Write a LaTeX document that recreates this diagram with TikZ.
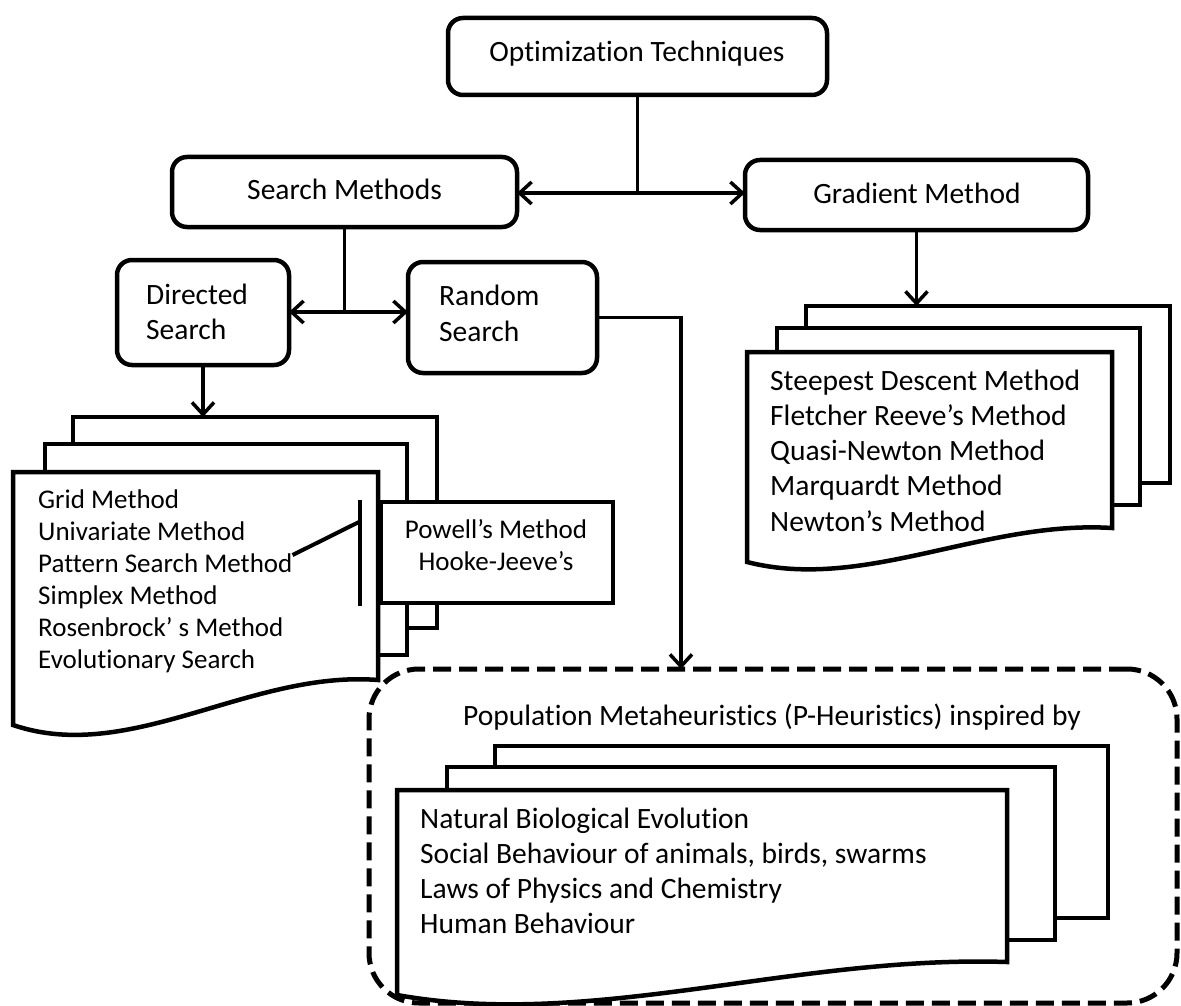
\documentclass[tikz,border=0pt]{standalone}
\usepackage{fontspec}
\setmainfont{Carlito}[Ligatures=NoCommon]
\usetikzlibrary{arrows.meta,calc}
\begin{document}
\begin{tikzpicture}[x=1pt,y=-1pt]
\tikzset{
 rbox/.style={draw, line width=4.5pt, rounded corners=15pt, fill=white, inner sep=0pt, outer sep=0pt},
 sheet/.style={draw, line width=4.5pt, fill=white, inner sep=0pt, outer sep=0pt},
 docpath/.style={draw, line width=4.5pt, fill=white},
 conn/.style={line width=3.5pt},
 arrowend/.style={-{Straight Barb[length=12pt,width=22pt]}},
 arrowboth/.style={{Straight Barb[length=12pt,width=22pt]}-{Straight Barb[length=12pt,width=22pt]}},
 big/.style={font=\fontsize{29.5}{35}\selectfont, inner sep=0pt, anchor=base},
 bigl/.style={font=\fontsize{29.5}{35}\selectfont, inner sep=0pt, anchor=base west},
 small/.style={font=\fontsize{27}{32}\selectfont, inner sep=0pt, anchor=base west},
 smallc/.style={font=\fontsize{27}{32}\selectfont, inner sep=0pt, anchor=base},
 dashbox/.style={draw, line width=5pt, dash pattern=on 18pt off 8pt, rounded corners=50pt, inner sep=0pt, outer sep=0pt},
}
\useasboundingbox (0,0) rectangle (1181,1006);

% dashed population frame
\node[dashbox, minimum width=808pt, minimum height=334pt] (pop) at (773,836) {};

% top boxes
\node[rbox, minimum width=379pt, minimum height=77pt] (opt) at (637.5,56.5) {};
\node[big] (topt) at (637,62) {Optimization Techniques};
\node[rbox, minimum width=345pt, minimum height=70pt] (search) at (344.5,192) {};
\node[big] (tsearch) at (344.5,199) {Search Methods};
\node[rbox, minimum width=343pt, minimum height=70pt] (grad) at (916.5,195) {};
\node[big] (tgrad) at (917,203) {Gradient Method};
\node[rbox, minimum width=172pt, minimum height=105pt] (dir) at (203,312.5) {};
\node[bigl] (tdir1) at (146,304) {Directed};
\node[bigl] (tdir2) at (146,339) {Search};
\node[rbox, minimum width=189pt, minimum height=111pt] (rand) at (502.5,317.5) {};
\node[bigl] (trand1) at (439,305) {Random};
\node[bigl] (trand2) at (439,341) {Search};

% junctions
\coordinate (j1) at (637.5,193);
\coordinate (j2) at (344.5,312);
\coordinate (rdrop) at (681,669);

\draw[conn] (opt.south) -- (j1);
\draw[conn,arrowboth] (search.east |- j1) -- (grad.west |- j1);
\draw[conn] (search.south) -- (j2);
\draw[conn,arrowboth] (dir.east |- j2) -- (rand.west |- j2);
\draw[conn,arrowend] (rand.east) -| (rdrop);

% directed search stack
\node[sheet, minimum width=364pt, minimum height=211pt] (dback) at (255,522.5) {};
\node[sheet, minimum width=362pt, minimum height=211pt] (dmid) at (226,549.5) {};
\draw[docpath] (13,472) -- (378,472) -- (378,680) .. controls (250,670) and (130,765) .. (13,725) -- cycle;
\foreach \t [count=\i from 0] in {Grid Method, Univariate Method, Pattern Search Method, Simplex Method, Rosenbrock’ s Method, Evolutionary Search}
  \node[small] (g\i) at (38,{508+32*\i}) {\t};
\draw[conn,arrowend] (dir.south) -- (dir.south |- dback.north);

% Powell callout
\node[sheet, minimum width=232pt, minimum height=101pt] (powell) at (497,552.5) {};
\node[smallc] (tpow1) at (496,538) {Powell’s Method};
\node[smallc] (tpow2) at (496,570) {Hooke-Jeeve’s};
\coordinate (bartop) at (360,500);
\coordinate (barbot) at (360,606);
\coordinate (barmid) at (359,522);
\draw[line width=4.5pt] (bartop) -- (barbot);
\draw[line width=4pt] ($(g2.north east)+(0,2)$) -- (barmid);

% gradient stack
\node[sheet, minimum width=364pt, minimum height=177pt] (gback) at (988,394.5) {};
\node[sheet, minimum width=363pt, minimum height=177pt] (gmid) at (958.5,416.5) {};
\draw[docpath] (747,352) -- (1112,352) -- (1112,528) .. controls (984,520) and (864,592) .. (747,562) -- cycle;
\foreach \t [count=\i from 0] in {Steepest Descent Method, Fletcher Reeve’s Method, Quasi-Newton Method, Marquardt Method, Newton’s Method}
  \node[bigl] (s\i) at (770,{390+35.25*\i}) {\t};
\draw[conn,arrowend] (grad.south) -- (grad.south |- gback.north);

% population stack
\node[big] (tpop) at (772,725) {Population Metaheuristics (P-Heuristics) inspired by};
\node[sheet, minimum width=613pt, minimum height=172pt] (pback) at (801.5,832) {};
\node[sheet, minimum width=608pt, minimum height=173pt] (pmid) at (751,853.5) {};
\draw[docpath] (397,790) -- (1007,790) -- (1007,962) .. controls (794,955) and (592,1030) .. (397,995) -- cycle;
\foreach \t [count=\i from 0] in {Natural Biological Evolution, {Social Behaviour of animals, birds, swarms}, Laws of Physics and Chemistry, Human Behaviour}
  \node[bigl] (p\i) at (420,{828+35*\i}) {\t};
\end{tikzpicture}
\end{document}
